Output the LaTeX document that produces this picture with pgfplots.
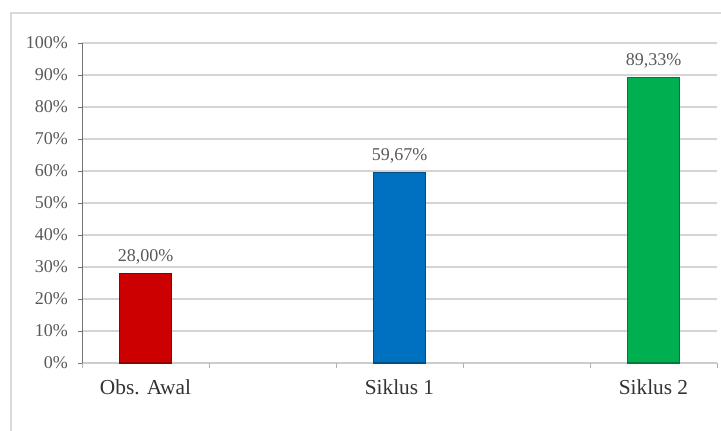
\documentclass[border=0pt]{standalone}
\usepackage{pgfplots}
\pgfplotsset{compat=1.18}
\usepackage{fontspec}
\setmainfont{Liberation Serif}
\definecolor{barred}{RGB}{204,0,0}
\definecolor{barblue}{RGB}{0,112,192}
\definecolor{bargreen}{RGB}{0,176,80}
\begin{document}
\begin{tikzpicture}
\path[use as bounding box] (0,0) rectangle (540.75pt,322.5pt);
\draw[black!15, line width=1.2pt] (8.25pt,-20pt) rectangle (580pt,312.75pt);
\begin{axis}[
  at={(61.5pt,50.25pt)}, anchor=south west,
  scale only axis, width=476.25pt, height=240pt,
  xmin=-0.5, xmax=4.5, ymin=0, ymax=100,
  axis x line=bottom, axis y line=left,
  axis line style={-},
  x axis line style={black!20, line width=1.2pt},
  y axis line style={black!55, line width=0.6pt},
  ytick={0,10,...,100},
  yticklabel={\pgfmathprintnumber{\tick}\%},
  ymajorgrids, grid style={black!17, line width=1.3pt},
  tick align=outside, major tick length=3pt,
  ytick style={black!55, line width=0.6pt},
  xtick={0,2,4},
  xticklabels={Obs. Awal, Siklus 1, Siklus 2},
  xtick style={draw=none},
  extra x ticks={-0.5,0.5,...,4.5},
  extra x tick labels={},
  extra x tick style={xtick style={draw=black!30, line width=0.7pt}, major tick length=4pt},
  yticklabel style={font=\fontsize{13.5}{15}\selectfont, text=black!65, xshift=-4pt},
  xticklabel style={font=\fontsize{16}{18}\selectfont, text=black!80, yshift=-6pt},
  /pgf/number format/assume math mode=true,
  nodes near coords={\pgfmathprintnumber[fixed,zerofill,precision=2,use comma]{\pgfplotspointmeta}\%},
  every node near coord/.style={font=\fontsize{13.5}{15}\selectfont, text=black!65, anchor=south, yshift=3pt},
  clip=false,
]
\addplot[ybar, bar width=39pt, bar shift=0pt, fill=barred, draw=barred!70!black, line width=0.8pt] coordinates {(0,28)};
\addplot[ybar, bar width=39pt, bar shift=0pt, fill=barblue, draw=barblue!70!black, line width=0.8pt] coordinates {(2,59.67)};
\addplot[ybar, bar width=39pt, bar shift=0pt, fill=bargreen, draw=bargreen!70!black, line width=0.8pt] coordinates {(4,89.33)};
\end{axis}
\end{tikzpicture}
\end{document}
